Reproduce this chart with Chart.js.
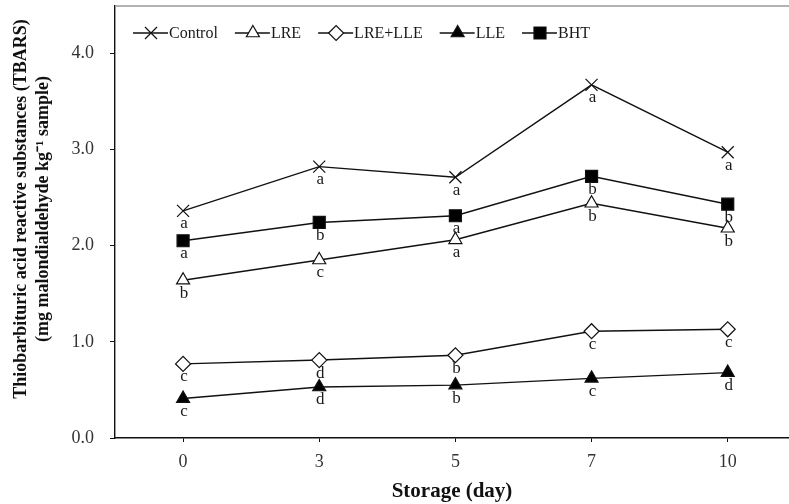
<!DOCTYPE html>
<html>
<head>
<meta charset="utf-8">
<script src="https://cdn.jsdelivr.net/npm/chart.js@4/dist/chart.umd.min.js"></script>
<style>
  html, body { margin: 0; padding: 0; background: #fff; }
  #wrap { width: 789px; height: 504px; position: relative; }
</style>
</head>
<body>
<div id="wrap"><canvas id="chart"></canvas></div>
<script>
const DAYS = ['0', '3', '5', '7', '10']
const Y_TICKS = [0, 1, 2, 3, 4]
const Y_TITLE = ['Thiobarbituric acid reactive substances (TBARS)', '(mg malondialdehyde kg\u207B\u00B9 sample)']

const CONTROL = [2.36, 2.82, 2.71, 3.67, 2.97]
const LRE = [1.64, 1.85, 2.06, 2.44, 2.18]
const LRE_LLE = [0.77, 0.81, 0.86, 1.11, 1.13]
const LLE = [0.41, 0.53, 0.55, 0.62, 0.68]
const BHT = [2.05, 2.24, 2.31, 2.72, 2.43]

const CONTROL_SIG = ['a', 'a', 'a', 'a', 'a']
const LRE_SIG = ['b', 'c', 'a', 'b', 'b']
const LRE_LLE_SIG = ['c', 'd', 'b', 'c', 'c']
const LLE_SIG = ['c', 'd', 'b', 'c', 'd']
const BHT_SIG = ['a', 'b', 'a', 'b', 'b']

const SERIF = "'Liberation Serif', 'Times New Roman', serif"
const INK = '#111'

const toPoints = vals => vals.map((v, i) => ({ x: i, y: v }))

function series(label, vals, sig, pointStyle, fill, radius) {
  return {
    label,
    data: toPoints(vals),
    sig,
    borderColor: INK,
    borderWidth: 1.4,
    pointStyle,
    pointRadius: radius,
    pointBackgroundColor: fill,
    pointBorderColor: INK,
    pointBorderWidth: 1.2,
    tension: 0,
  }
}

// legend drawn by hand: "—marker— label" like the original plot
const lineLegend = {
  id: 'lineLegend',
  afterDraw(chart) {
    const ctx = chart.ctx
    const y = 33
    let x = chart.chartArea.left + 18
    ctx.save()
    ctx.font = `16px ${SERIF}`
    ctx.textBaseline = 'middle'
    chart.data.datasets.forEach(ds => {
      ctx.strokeStyle = INK
      ctx.lineWidth = 1.4
      ctx.beginPath()
      ctx.moveTo(x, y)
      ctx.lineTo(x + 35, y)
      ctx.stroke()
      ctx.fillStyle = ds.pointBackgroundColor
      ctx.strokeStyle = INK
      ctx.lineWidth = 1.2
      Chart.helpers.drawPoint(ctx, {
        pointStyle: ds.pointStyle, radius: ds.pointRadius, borderWidth: 1.2, rotation: 0,
      }, x + 18, y)
      ctx.fillStyle = '#1a1a1a'
      ctx.textAlign = 'left'
      ctx.fillText(ds.label, x + 36, y + 1)
      x += 36 + ctx.measureText(ds.label).width + 17
    })
    ctx.restore()
  },
}

// y title sits a bit above the plot's middle in the original, so draw it here
const yTitle = {
  id: 'yTitle',
  afterDraw(chart) {
    const ctx = chart.ctx
    ctx.save()
    ctx.font = `bold 18px ${SERIF}`
    ctx.fillStyle = '#111'
    ctx.textAlign = 'center'
    ctx.textBaseline = 'middle'
    Y_TITLE.forEach((line, i) => {
      ctx.save()
      ctx.translate(21 + i * 22, 209)
      ctx.rotate(-Math.PI / 2)
      ctx.fillText(line, 0, 0)
      ctx.restore()
    })
    ctx.restore()
  },
}

// significance letters under each point + grey top frame line
const sigLetters = {
  id: 'sigLetters',
  afterDatasetsDraw(chart) {
    const ctx = chart.ctx
    const { left, right, top } = chart.chartArea
    ctx.save()
    ctx.strokeStyle = '#999'
    ctx.lineWidth = 1.5
    ctx.beginPath()
    ctx.moveTo(left, top)
    ctx.lineTo(right, top)
    ctx.stroke()

    ctx.font = `17px ${SERIF}`
    ctx.fillStyle = '#1a1a1a'
    ctx.textAlign = 'center'
    ctx.textBaseline = 'middle'
    chart.data.datasets.forEach((ds, di) => {
      const meta = chart.getDatasetMeta(di)
      meta.data.forEach((pt, i) => {
        ctx.fillText(ds.sig[i], pt.x + 1, pt.y + 13)
      })
    })
    ctx.restore()
  },
}

new Chart(document.getElementById('chart'), {
  type: 'line',
  data: {
    datasets: [
      series('Control', CONTROL, CONTROL_SIG, 'crossRot', '#fff', 8.5),
      series('LRE', LRE, LRE_SIG, 'triangle', '#fff', 7.5),
      series('LRE+LLE', LRE_LLE, LRE_LLE_SIG, 'rectRot', '#fff', 7.5),
      series('LLE', LLE, LLE_SIG, 'triangle', '#000', 7.5),
      series('BHT', BHT, BHT_SIG, 'rect', '#000', 8.5),
    ],
  },
  plugins: [lineLegend, sigLetters, yTitle],
  options: {
    responsive: true,
    maintainAspectRatio: false,
    animation: false,
    layout: { autoPadding: false, padding: { top: 6, left: 0, right: 0, bottom: 0 } },
    plugins: {
      legend: { display: false },
      tooltip: { enabled: false },
    },
    scales: {
      x: {
        type: 'linear',
        min: -0.5,
        max: 4.45,
        afterBuildTicks: s => { s.ticks = DAYS.map((d, i) => ({ value: i })) },
        afterFit: s => { s.height = 66; s.paddingLeft = 0; s.paddingRight = 0 },
        ticks: {
          color: '#333',
          font: { family: SERIF, size: 18 },
          padding: 9,
          maxRotation: 0,
          callback: v => DAYS[v],
        },
        grid: { display: true, drawOnChartArea: false, drawTicks: true, tickLength: 4, color: INK },
        border: { display: true, color: INK, width: 1.4 },
        title: {
          display: true,
          text: 'Storage (day)',
          color: '#111',
          font: { family: SERIF, size: 21, weight: 'bold' },
          padding: { top: 0, bottom: 0 },
        },
      },
      y: {
        min: 0,
        max: 4.49,
        afterBuildTicks: s => { s.ticks = Y_TICKS.map(v => ({ value: v })) },
        afterFit: s => { s.width = 115; s.paddingTop = 0; s.paddingBottom = 0 },
        ticks: {
          color: '#333',
          font: { family: SERIF, size: 18 },
          padding: 16,
          callback: v => v.toFixed(1),
        },
        grid: { display: true, drawOnChartArea: false, drawTicks: true, tickLength: 5, color: INK },
        border: { display: true, color: INK, width: 1.4 },
        title: { display: false },
      },
    },
  },
})
</script>
</body>
</html>
